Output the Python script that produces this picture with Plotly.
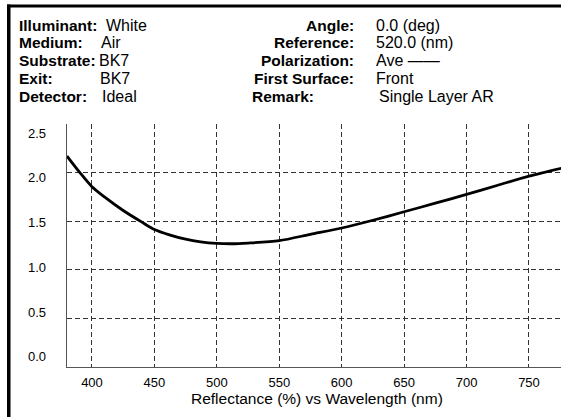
import plotly.graph_objects as go

# ---- data ----
wavelength_nm = [380, 390, 400, 410, 425, 440, 450, 462, 475, 487, 500, 512, 525, 550, 575,
                 600, 625, 650, 675, 700, 725, 750, 776]
reflectance_pct = [2.17, 2.005, 1.855, 1.75, 1.61, 1.49, 1.415, 1.36, 1.315, 1.288, 1.272, 1.268,
                   1.275, 1.30, 1.365, 1.43, 1.51, 1.597, 1.685, 1.776, 1.87, 1.963, 2.045]
x_ticks = [400, 450, 500, 550, 600, 650, 700, 750]
y_ticks = [0.0, 0.5, 1.0, 1.5, 2.0, 2.5]
y_tick_labels = ["0.0", "0.5", "1.0", "1.5", "2.0", "2.5"]

left_labels = ["Illuminant:", "Medium:", "Substrate:", "Exit:", "Detector:"]
left_values = ["White", "Air", "BK7", "BK7", "Ideal"]
right_labels = ["Angle:", "Reference:", "Polarization:", "First Surface:", "Remark:"]
right_values = ["0.0 (deg)", "520.0 (nm)", "Ave ——", "Front", "Single Layer AR"]
x_title = "Reflectance (%) vs Wavelength (nm)"

# ---- layout geometry (pixels) ----
VIEW_W, H = 561, 417
W = VIEW_W + 16          # figure slightly wider than the window; extra strip falls off-screen
ML, MR, MT, MB = 67, W - VIEW_W, 124, 50
PW, PH = W - ML - MR, H - MT - MB
FONT = "Liberation Sans, Arial, sans-serif"


def px(xp):
    return (xp - ML) / PW


def py(yp):
    return (H - MB - yp) / PH


fig = go.Figure()
fig.add_trace(go.Scatter(
    x=wavelength_nm, y=reflectance_pct, mode="lines",
    line=dict(color="black", width=2.8, shape="spline", smoothing=0.8),
    hoverinfo="skip", showlegend=False, cliponaxis=True,
))

annotations = []
row_y = [25.5, 42.8, 61.0, 78.5, 96.2]
left_val_x = [105, 100, 97.5, 99.3, 100.7]
for i in range(5):
    annotations.append(dict(x=px(16.5), y=py(row_y[i]), xref="paper", yref="paper",
                             text="<b>%s</b>" % left_labels[i], showarrow=False,
                             xanchor="left", yanchor="middle",
                             font=dict(family=FONT, size=15.5, color="black")))
    annotations.append(dict(x=px(left_val_x[i] - 1), y=py(row_y[i]), xref="paper", yref="paper",
                             text=left_values[i], showarrow=False,
                             xanchor="left", yanchor="middle",
                             font=dict(family=FONT, size=16, color="black")))
    if i < 4:
        annotations.append(dict(x=px(356), y=py(row_y[i]), xref="paper", yref="paper",
                                 text="<b>%s</b>" % right_labels[i], showarrow=False,
                                 xanchor="right", yanchor="middle",
                                 font=dict(family=FONT, size=15.5, color="black")))
    else:
        annotations.append(dict(x=px(250), y=py(row_y[i]), xref="paper", yref="paper",
                                 text="<b>%s</b>" % right_labels[i], showarrow=False,
                                 xanchor="left", yanchor="middle",
                                 font=dict(family=FONT, size=15.5, color="black")))
    vx = 377.5 if i == 4 else 375
    annotations.append(dict(x=px(vx - 1), y=py(row_y[i]), xref="paper", yref="paper",
                             text=right_values[i], showarrow=False,
                             xanchor="left", yanchor="middle",
                             font=dict(family=FONT, size=16, color="black")))

# y tick labels: spread slightly inward from the grid lines as in the original
LABEL_TOP_PX, LABEL_BOTTOM_PX = 133.3, 356.7
for v, t in zip(y_ticks, y_tick_labels):
    yp = LABEL_BOTTOM_PX - (v - y_ticks[0]) / (y_ticks[-1] - y_ticks[0]) * (LABEL_BOTTOM_PX - LABEL_TOP_PX)
    annotations.append(dict(x=px(48), y=py(yp), xref="paper", yref="paper",
                             text=t, showarrow=False, xanchor="right", yanchor="middle",
                             font=dict(family=FONT, size=13, color="black")))

annotations.append(dict(x=px(316.7), y=py(398), xref="paper", yref="paper",
                         text=x_title, showarrow=False, xanchor="center", yanchor="middle",
                         font=dict(family=FONT, size=15.5, color="black")))

shapes = [
    # frame bars (top and left, thick black)
    dict(type="rect", xref="paper", yref="paper", x0=px(7), x1=px(W), y0=py(7.5), y1=py(4.5),
         line=dict(width=0), fillcolor="black"),
    dict(type="rect", xref="paper", yref="paper", x0=px(7), x1=px(10.5), y0=py(H), y1=py(4.5),
         line=dict(width=0), fillcolor="black"),
]

fig.update_layout(
    width=W, height=H,
    margin=dict(l=ML, r=MR, t=MT, b=MB),
    paper_bgcolor="white", plot_bgcolor="white",
    font=dict(family=FONT, size=13, color="black"),
    showlegend=False,
    annotations=annotations,
    shapes=shapes,
    xaxis=dict(range=[380, 380 + PW / (62.43 / 50)], tickvals=x_ticks,
               ticktext=[str(v) for v in x_ticks],
               showgrid=True, gridcolor="#333", griddash="5px,3px", gridwidth=1,
               showline=True, linecolor="#555", linewidth=1, mirror=False,
               ticks="", ticklabelstandoff=3, zeroline=False,
               tickfont=dict(family=FONT, size=13, color="black"), fixedrange=True),
    yaxis=dict(range=[0, 2.5], tickvals=y_ticks, showticklabels=False,
               showgrid=True, gridcolor="#333", griddash="5px,3px", gridwidth=1,
               showline=True, linecolor="#555", linewidth=1, mirror=False,
               ticks="", zeroline=False, fixedrange=True),
)

fig.write_html(
    "out.html",
    config={"displayModeBar": False},
    post_script="document.body.style.margin='0';document.body.style.overflow='hidden';",
)
